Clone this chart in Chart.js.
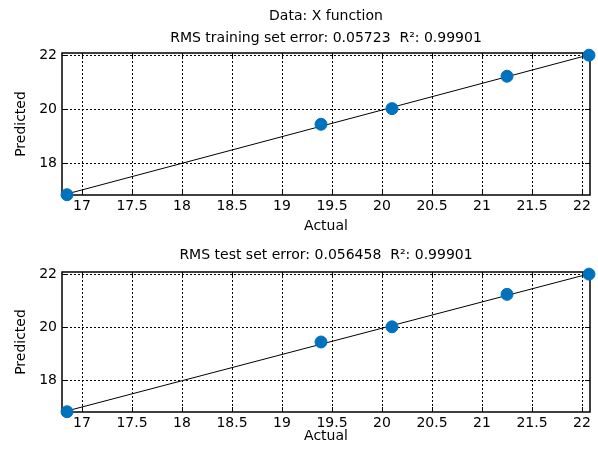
<!DOCTYPE html>
<html>
<head>
<meta charset="utf-8">
<script src="https://cdn.jsdelivr.net/npm/chart.js@4"></script>
<style>
  body { margin: 0; background: #fff; }
  #wrap { position: relative; width: 598px; height: 450px; }
  #top { position: absolute; left: 0; top: 0; }
  #bottom { position: absolute; left: 0; top: 240px; }
</style>
</head>
<body>
<div id="wrap">
  <canvas id="top" width="598" height="240"></canvas>
  <canvas id="bottom" width="598" height="210"></canvas>
</div>
<script>
// data
let actual = [16.85, 19.39, 20.10, 21.25, 22.07];
let predictedTrain = [16.82, 19.43, 20.01, 21.21, 21.99];
let predictedTest = [16.82, 19.44, 20.01, 21.23, 21.99];
let fitX = [16.85, 22.07];
let fitY = [16.85, 22.00];
let xTicks = [17, 17.5, 18, 18.5, 19, 19.5, 20, 20.5, 21, 21.5, 22];
let yTicks = [18, 20, 22];

let font = "'DejaVu Sans', sans-serif";
let fontSize = 14;
let blue = '#0072BD';

function pairs(xs, ys) {
    return xs.map((x, i) => ({ x: x, y: ys[i] }));
}

// dotted grid, inward ticks and box, all under the marks; title lines on top
let framePlugin = {
    id: 'frame',
    beforeDatasetsDraw(chart) {
        let { ctx, chartArea: a, scales } = chart;
        ctx.save();
        ctx.strokeStyle = '#000';
        ctx.lineWidth = 1;
        ctx.setLineDash([2, 2]);
        ctx.beginPath();
        xTicks.forEach(v => {
            let px = Math.round(scales.x.getPixelForValue(v)) + 0.5;
            ctx.moveTo(px, a.top); ctx.lineTo(px, a.bottom);
        });
        yTicks.forEach(v => {
            let py = Math.round(scales.y.getPixelForValue(v)) + 0.5;
            ctx.moveTo(a.left, py); ctx.lineTo(a.right, py);
        });
        ctx.stroke();

        ctx.setLineDash([]);
        ctx.beginPath();
        xTicks.forEach(v => {
            let px = Math.round(scales.x.getPixelForValue(v)) + 0.5;
            ctx.moveTo(px, a.bottom); ctx.lineTo(px, a.bottom - 5);
            ctx.moveTo(px, a.top); ctx.lineTo(px, a.top + 5);
        });
        yTicks.forEach(v => {
            let py = Math.round(scales.y.getPixelForValue(v)) + 0.5;
            ctx.moveTo(a.left, py); ctx.lineTo(a.left + 5, py);
            ctx.moveTo(a.right, py); ctx.lineTo(a.right - 5, py);
        });
        ctx.stroke();
        ctx.lineWidth = 1.5;
        ctx.strokeRect(a.left, a.top, a.right - a.left, a.bottom - a.top);
        ctx.restore();
    },
    afterDraw(chart) {
        let { ctx, chartArea: a } = chart;
        let lines = chart.options.plugins.frame.lines;
        ctx.save();
        ctx.fillStyle = '#000';
        ctx.font = fontSize + 'px ' + font;
        ctx.textAlign = 'center';
        ctx.textBaseline = 'middle';
        let cx = (a.left + a.right) / 2;
        lines.forEach(l => ctx.fillText(l.text, cx, l.y));
        ctx.restore();
    }
};

function makeChart(id, predicted, lines, top, xHeight, titlePad) {
    let ctx = document.getElementById(id).getContext('2d');
    return new Chart(ctx, {
        type: 'scatter',
        data: {
            datasets: [{
                data: pairs(actual, predicted),
                backgroundColor: blue,
                borderColor: blue,
                pointRadius: 6,
                pointHoverRadius: 6,
                clip: false,
                order: 1
            }, {
                type: 'line',
                data: pairs(fitX, fitY),
                borderColor: '#000',
                borderWidth: 1,
                pointRadius: 0,
                fill: false,
                order: 2
            }]
        },
        options: {
            responsive: false,
            animation: false,
            layout: { padding: { top: top, right: 8, left: 0, bottom: 0 } },
            plugins: {
                legend: { display: false },
                tooltip: { enabled: false },
                frame: { lines: lines }
            },
            scales: {
                x: {
                    type: 'linear',
                    min: 16.8,
                    max: 22.08,
                    afterBuildTicks: s => { s.ticks = xTicks.map(v => ({ value: v })); },
                    afterFit: s => { s.height = xHeight; },
                    grid: { display: false, drawTicks: false },
                    border: { display: false },
                    ticks: { color: '#000', padding: 3, maxRotation: 0, autoSkip: false,
                        callback: v => String(v),
                        font: { family: font, size: fontSize } },
                    title: { display: true, text: 'Actual', color: '#000',
                        font: { family: font, size: fontSize }, padding: { top: 0, bottom: titlePad } }
                },
                y: {
                    type: 'linear',
                    min: 16.81,
                    max: 22.07,
                    afterBuildTicks: s => { s.ticks = yTicks.map(v => ({ value: v })); },
                    afterFit: s => { s.width = 62; },
                    grid: { display: false, drawTicks: false },
                    border: { display: false },
                    ticks: { color: '#000', padding: 5, callback: v => String(v),
                        font: { family: font, size: fontSize } },
                    title: { display: true, text: 'Predicted', color: '#000',
                        font: { family: font, size: fontSize }, padding: { top: 13, bottom: 0 } }
                }
            }
        },
        plugins: [framePlugin]
    });
}

makeChart('top', predictedTrain, [
    { text: 'Data: X function', y: 16 },
    { text: 'RMS training set error: 0.05723  R²: 0.99901', y: 38 }
], 53, 45, 5);

makeChart('bottom', predictedTest, [
    { text: 'RMS test set error: 0.056458  R²: 0.99901', y: 15 }
], 32, 38, 5);
</script>
</body>
</html>
